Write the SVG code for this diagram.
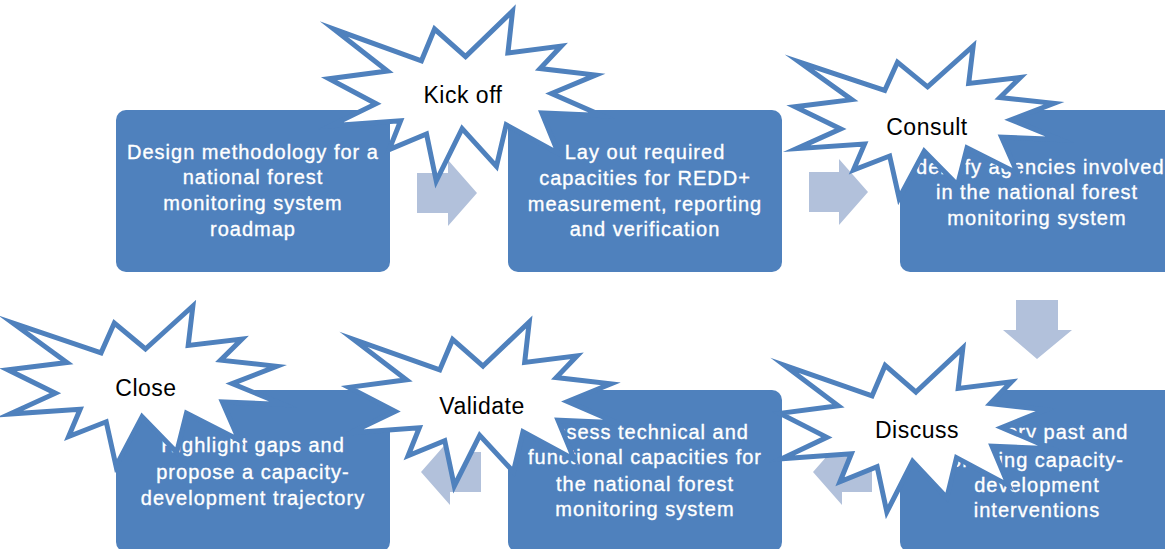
<svg xmlns="http://www.w3.org/2000/svg" xmlns:xlink="http://www.w3.org/1999/xlink" width="1165" height="549" viewBox="0 0 1165 549">
<style>
.box{fill:#4F81BD;}
.arrow{fill:#B2C1DB;}
.bt{font-family:"Liberation Sans",Arial,sans-serif;font-size:20px;fill:#FFFFFF;stroke:#FFFFFF;stroke-width:0.35px;text-anchor:middle;letter-spacing:1px;}
.st{font-family:"Liberation Sans",Arial,sans-serif;font-size:23px;fill:#000000;text-anchor:middle;letter-spacing:0.5px;}
.star{fill:#FFFFFF;stroke:#4F81BD;stroke-width:5;stroke-linejoin:miter;stroke-miterlimit:10;}
</style>
<defs>
<path id="burst" vector-effect="non-scaling-stroke" d="M108,58 L145.22,0 L141.55,53.25 L183.8,44.57 L167.02,73.15 L210.97,81.37 L176.07,104.75 L216,132.9 L168.37,129.42 L181.45,180.95 L140.2,144.57 L132.47,197.37 L105.32,149.35 L84.85,216 L77.15,156.27 L47.62,176.17 L56.67,139.37 L1.35,145.87 L37.22,117.75 L0,86.15 L46.27,76.17 L3.7,22.95 L73.12,63.2 L83.52,22.95 Z"/>
</defs>
<g id="box1"><rect class="box" x="116" y="110" width="274" height="162" rx="10"/>
<text class="bt" x="253" y="159">Design methodology for a</text>
<text class="bt" x="253" y="184">national forest</text>
<text class="bt" x="253" y="210">monitoring system</text>
<text class="bt" x="253" y="236">roadmap</text></g>
<g id="box2"><rect class="box" x="508" y="110" width="274" height="162" rx="10"/>
<text class="bt" x="645" y="159">Lay out required</text>
<text class="bt" x="645" y="185">capacities for REDD+</text>
<text class="bt" x="645" y="211">measurement, reporting</text>
<text class="bt" x="645" y="236">and verification</text></g>
<g id="box3"><rect class="box" x="900" y="110" width="274" height="162" rx="10"/>
<text class="bt" x="1037" y="174">Identify agencies involved</text>
<text class="bt" x="1037" y="199">in the national forest</text>
<text class="bt" x="1037" y="225">monitoring system</text></g>
<g id="box4"><rect class="box" x="116" y="390" width="274" height="162" rx="10"/>
<text class="bt" x="253" y="452">Highlight gaps and</text>
<text class="bt" x="253" y="479">propose a capacity-</text>
<text class="bt" x="253" y="505">development trajectory</text></g>
<g id="box5"><rect class="box" x="508" y="390" width="274" height="162" rx="10"/>
<text class="bt" x="645" y="439">Assess technical and</text>
<text class="bt" x="645" y="464">functional capacities for</text>
<text class="bt" x="645" y="491">the national forest</text>
<text class="bt" x="645" y="516">monitoring system</text></g>
<g id="box6"><rect class="box" x="900" y="390" width="274" height="162" rx="10"/>
<text class="bt" x="1037" y="439">Inventory past and</text>
<text class="bt" x="1037" y="467">ongoing capacity-</text>
<text class="bt" x="1037" y="492">development</text>
<text class="bt" x="1037" y="517">interventions</text></g>
<g id="connectors">
<polygon class="arrow" points="417,173 448,173 448,160 477,193 448,226 448,213 417,213"/>
<polygon class="arrow" points="809,172 839,172 839,159 868,192 839,225 839,212 809,212"/>
<polygon class="arrow" points="1016,300 1058,300 1058,330 1072,330 1037,359 1003,330 1016,330"/>
<polygon class="arrow" points="872,452 842,452 842,439 813,472 842,505 842,492 872,492"/>
<polygon class="arrow" points="481,452 450,452 450,439 421,472 450,505 450,492 481,492"/>
</g>
<g id="kickoff"><use xlink:href="#burst" class="star" transform="translate(329,11) scale(1.264,0.787)"/>
<text class="st" x="463" y="103">Kick off</text></g>
<g id="consult"><use xlink:href="#burst" class="star" transform="translate(795,46) scale(1.227,0.704)"/>
<text class="st" x="927" y="135">Consult</text></g>
<g id="discuss"><use xlink:href="#burst" class="star" transform="translate(780,348) scale(1.259,0.759)"/>
<text class="st" x="917" y="438">Discuss</text></g>
<g id="validate"><use xlink:href="#burst" class="star" transform="translate(349,322) scale(1.241,0.759)"/>
<text class="st" x="482" y="414">Validate</text></g>
<g id="close"><use xlink:href="#burst" class="star" transform="translate(8,306) scale(1.273,0.741)"/>
<text class="st" x="146" y="396">Close</text></g>
</svg>
